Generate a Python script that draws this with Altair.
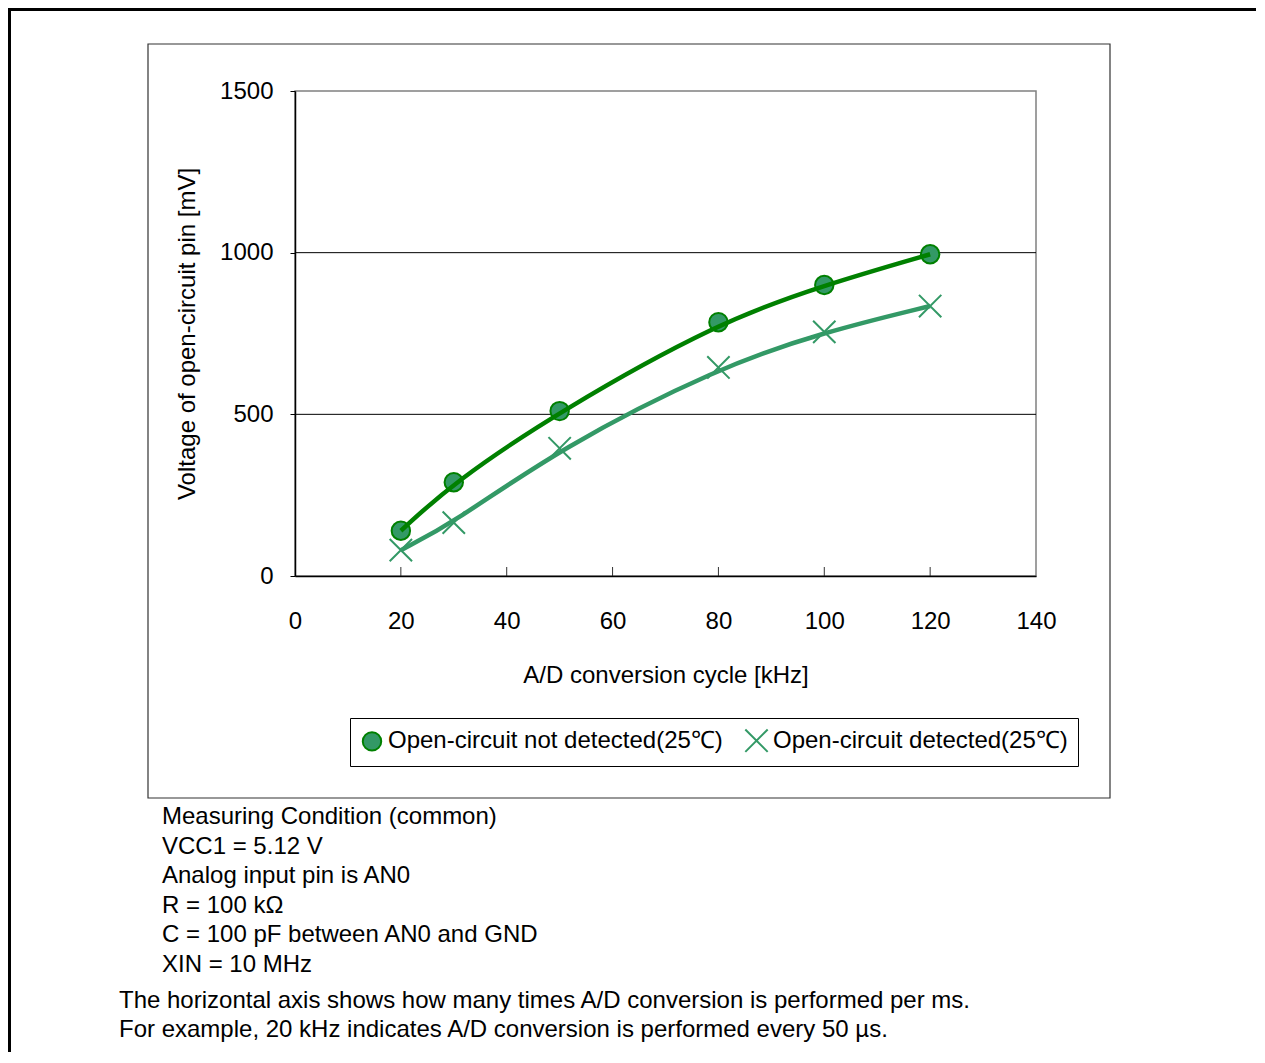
import altair as alt
import pandas as pd

# ---- data ----
freq = [20, 30, 50, 80, 100, 120]
not_detected = [140, 290, 510, 785, 900, 995]
detected = [80, 165, 395, 645, 755, 835]
series_names = ["Open-circuit not detected(25℃)", "Open-circuit detected(25℃)"]
x_ticks = [0, 20, 40, 60, 80, 100, 120, 140]
x_inner_ticks = [20, 40, 60, 80, 100, 120]
y_ticks = [0, 500, 1000, 1500]
y_grid = [500, 1000]
condition_lines = [
    "Measuring Condition (common)",
    "VCC1 = 5.12 V",
    "Analog input pin is AN0",
    "R = 100 kΩ",
    "C = 100 pF between AN0 and GND",
    "XIN = 10 MHz",
]
note_lines = [
    "The horizontal axis shows how many times A/D conversion is performed per ms.",
    "For example, 20 kHz indicates A/D conversion is performed every 50 µs.",
]

FONT = "Liberation Sans"
FS = 24
DARK_GREEN = "#008000"
MID_GREEN = "#339966"

rows = []
for f, v in zip(freq, not_detected):
    rows.append({"freq": f, "mv": v, "series": series_names[0]})
for f, v in zip(freq, detected):
    rows.append({"freq": f, "mv": v, "series": series_names[1]})
df = pd.DataFrame(rows)
one = pd.DataFrame({"a": [0]})

W, H = 741, 485

xscale = alt.Scale(domain=[0, 140], nice=False)
yscale = alt.Scale(domain=[0, 1500], nice=False)

x_enc = alt.X(
    "freq:Q",
    scale=xscale,
    axis=alt.Axis(
        values=x_ticks,
        format="d",
        ticks=False,
        tickSize=0,
        labelPadding=33,
        labelFlush=False,
        labelOverlap=False,
        title="A/D conversion cycle [kHz]",
        titlePadding=30,
        grid=False,
        domainColor="#000000",
        domainWidth=1.5,
        zindex=1,
    ),
)
y_enc = alt.Y(
    "mv:Q",
    scale=yscale,
    axis=alt.Axis(
        values=y_ticks,
        format="d",
        tickSize=5,
        tickColor="#000000",
        labelPadding=17,
        labelFlush=False,
        labelOverlap=False,
        title="Voltage of open-circuit pin [mV]",
        titlePadding=20,
        grid=False,
        domainColor="#000000",
        domainWidth=1.5,
        zindex=1,
    ),
)

legend_cfg = dict(
    orient="none",
    legendX=55,
    legendY=627,
    direction="horizontal",
    title=None,
)

# frames
outer_top = alt.Chart(one).mark_rule(color="#000000", strokeWidth=3).encode(
    x=alt.value(-287), x2=alt.value(962), y=alt.value(-81.5)
)
outer_left = alt.Chart(one).mark_rule(color="#000000", strokeWidth=3).encode(
    x=alt.value(-285.5), y=alt.value(-83), y2=alt.value(964)
)
inner_box = alt.Chart(one).mark_rect(fill="transparent", stroke="#333333", strokeWidth=1.2).encode(
    x=alt.value(-147), x2=alt.value(815), y=alt.value(-47), y2=alt.value(707)
)

grid = alt.Chart(pd.DataFrame({"g": y_grid})).mark_rule(color="#000000", strokeWidth=1).encode(
    y=alt.Y("g:Q", scale=yscale)
)
inner_ticks = alt.Chart(pd.DataFrame({"t": x_inner_ticks})).mark_rule(color="#333333", strokeWidth=1).encode(
    x=alt.X("t:Q", scale=xscale), y=alt.value(H - 9), y2=alt.value(H)
)

line_nd = alt.Chart(df).transform_filter(
    alt.datum.series == series_names[0]
).mark_line(interpolate="basis", color=DARK_GREEN, strokeWidth=4.5).encode(
    x=x_enc, y=y_enc
)
line_d = alt.Chart(df).transform_filter(
    alt.datum.series == series_names[1]
).mark_line(interpolate="basis", color=MID_GREEN, strokeWidth=4.5).encode(
    x=x_enc, y=y_enc
)

points = alt.Chart(df).mark_point(opacity=1, strokeWidth=2).encode(
    x=x_enc,
    y=y_enc,
    shape=alt.Shape(
        "series:N",
        scale=alt.Scale(domain=series_names, range=["circle", "M-1,-1L1,1M-1,1L1,-1"]),
        legend=alt.Legend(**legend_cfg),
    ),
    fill=alt.Fill(
        "series:N",
        scale=alt.Scale(domain=series_names, range=[MID_GREEN, "transparent"]),
        legend=alt.Legend(**legend_cfg),
    ),
    stroke=alt.Stroke(
        "series:N",
        scale=alt.Scale(domain=series_names, range=[DARK_GREEN, MID_GREEN]),
        legend=alt.Legend(**legend_cfg),
    ),
    size=alt.Size(
        "series:N",
        scale=alt.Scale(domain=series_names, range=[340, 500]),
        legend=alt.Legend(**legend_cfg),
    ),
)

cond_text = alt.Chart(one).mark_text(
    text=condition_lines, align="left", baseline="alphabetic", lineHeight=29.5,
    fontSize=FS, font=FONT, color="#000000",
).encode(x=alt.value(-133), y=alt.value(733))

note_text = alt.Chart(one).mark_text(
    text=note_lines, align="left", baseline="alphabetic", lineHeight=29,
    fontSize=FS, font=FONT, color="#000000",
).encode(x=alt.value(-176), y=alt.value(917))

chart = alt.layer(
    outer_top, outer_left, inner_box, grid, inner_ticks, points, line_nd, line_d, cond_text, note_text
).properties(
    width=W,
    height=H,
    autosize=alt.AutoSizeParams(type="none"),
    padding={"left": 287, "top": 83, "right": 220, "bottom": 476},
    background="white",
).configure_view(
    stroke="#808080", strokeWidth=1.5, fill="white"
).configure_axis(
    labelFont=FONT, titleFont=FONT, labelFontSize=FS, titleFontSize=FS,
    labelColor="#000000", titleColor="#000000", titleFontWeight="normal",
).configure_legend(
    labelFont=FONT, labelFontSize=FS, labelColor="#000000", labelLimit=0,
    strokeColor="#000000", fillColor="white", padding=10,
    symbolStrokeWidth=2, columnPadding=18, labelOffset=4,
).configure_text(font=FONT)

chart.save("out.html", embed_options={"renderer": "svg", "actions": False})
